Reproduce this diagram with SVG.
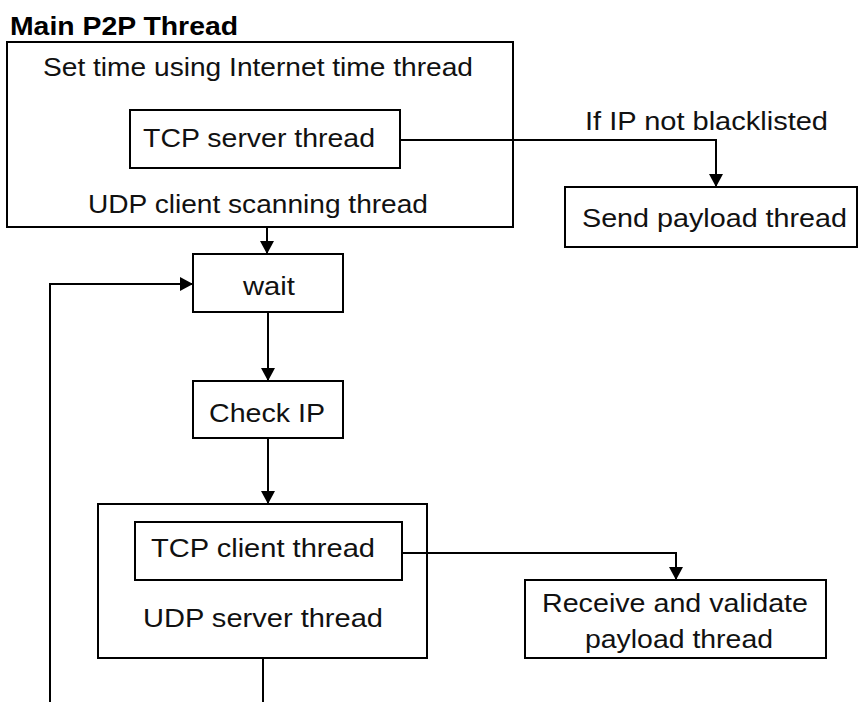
<svg xmlns="http://www.w3.org/2000/svg" width="860" height="702" viewBox="0 0 860 702">
  <style>
    .box { fill: #ffffff; stroke: #000000; stroke-width: 2; }
    .lbl { font-family: "Liberation Sans", Arial, sans-serif; font-size: 26px; fill: #111111; }
    .title { font-family: "Liberation Sans", Arial, sans-serif; font-size: 26px; font-weight: bold; fill: #000000; }
    .conn { fill: none; stroke: #000000; stroke-width: 2; }
  </style>
  <defs>
    <marker id="arrow" markerUnits="userSpaceOnUse" markerWidth="14" markerHeight="14" refX="13" refY="7" orient="auto">
      <path d="M0,0 L13,7 L0,14 z" fill="#000000"/>
    </marker>
  </defs>
  <rect width="860" height="702" fill="#ffffff"/>

  <text class="title" x="10" y="35" textLength="228" lengthAdjust="spacingAndGlyphs">Main P2P Thread</text>

  <g id="main-thread">
    <rect class="box" x="7" y="42" width="506" height="185"/>
    <text class="lbl" x="43" y="76" textLength="430" lengthAdjust="spacingAndGlyphs">Set time using Internet time thread</text>
    <text class="lbl" x="88" y="213" textLength="340" lengthAdjust="spacingAndGlyphs">UDP client scanning thread</text>
  </g>
  <g id="tcp-server">
    <rect class="box" x="130" y="110" width="270" height="58"/>
    <text class="lbl" x="143" y="147" textLength="232" lengthAdjust="spacingAndGlyphs">TCP server thread</text>
  </g>
  <g id="send-payload">
    <rect class="box" x="565" y="187" width="292" height="60"/>
    <text class="lbl" x="582" y="227" textLength="265" lengthAdjust="spacingAndGlyphs">Send payload thread</text>
  </g>
  <g id="wait">
    <rect class="box" x="193" y="254" width="150" height="58"/>
    <text class="lbl" x="243" y="295" textLength="52" lengthAdjust="spacingAndGlyphs">wait</text>
  </g>
  <g id="check-ip">
    <rect class="box" x="193" y="381" width="150" height="57"/>
    <text class="lbl" x="209" y="422" textLength="116" lengthAdjust="spacingAndGlyphs">Check IP</text>
  </g>
  <g id="udp-server">
    <rect class="box" x="98" y="504" width="329" height="154"/>
    <text class="lbl" x="143" y="627" textLength="240" lengthAdjust="spacingAndGlyphs">UDP server thread</text>
  </g>
  <g id="tcp-client">
    <rect class="box" x="135" y="522" width="267" height="58"/>
    <text class="lbl" x="151" y="557" textLength="224" lengthAdjust="spacingAndGlyphs">TCP client thread</text>
  </g>
  <g id="receive-payload">
    <rect class="box" x="525" y="580" width="301" height="78"/>
    <text class="lbl" x="542" y="612" textLength="266" lengthAdjust="spacingAndGlyphs">Receive and validate</text>
    <text class="lbl" x="585" y="648" textLength="188" lengthAdjust="spacingAndGlyphs">payload thread</text>
  </g>

  <g id="connectors">
    <path class="conn" d="M400,140 H716 V187" marker-end="url(#arrow)"/>
    <text class="lbl" x="585" y="130" textLength="243" lengthAdjust="spacingAndGlyphs">If IP not blacklisted</text>
    <path class="conn" d="M267,227 V254" marker-end="url(#arrow)"/>
    <path class="conn" d="M268,312 V381" marker-end="url(#arrow)"/>
    <path class="conn" d="M268,438 V504" marker-end="url(#arrow)"/>
    <path class="conn" d="M402,553 H676 V580" marker-end="url(#arrow)"/>
    <path class="conn" d="M263,658 V720 H50 V284 H193" marker-end="url(#arrow)"/>
  </g>
</svg>
